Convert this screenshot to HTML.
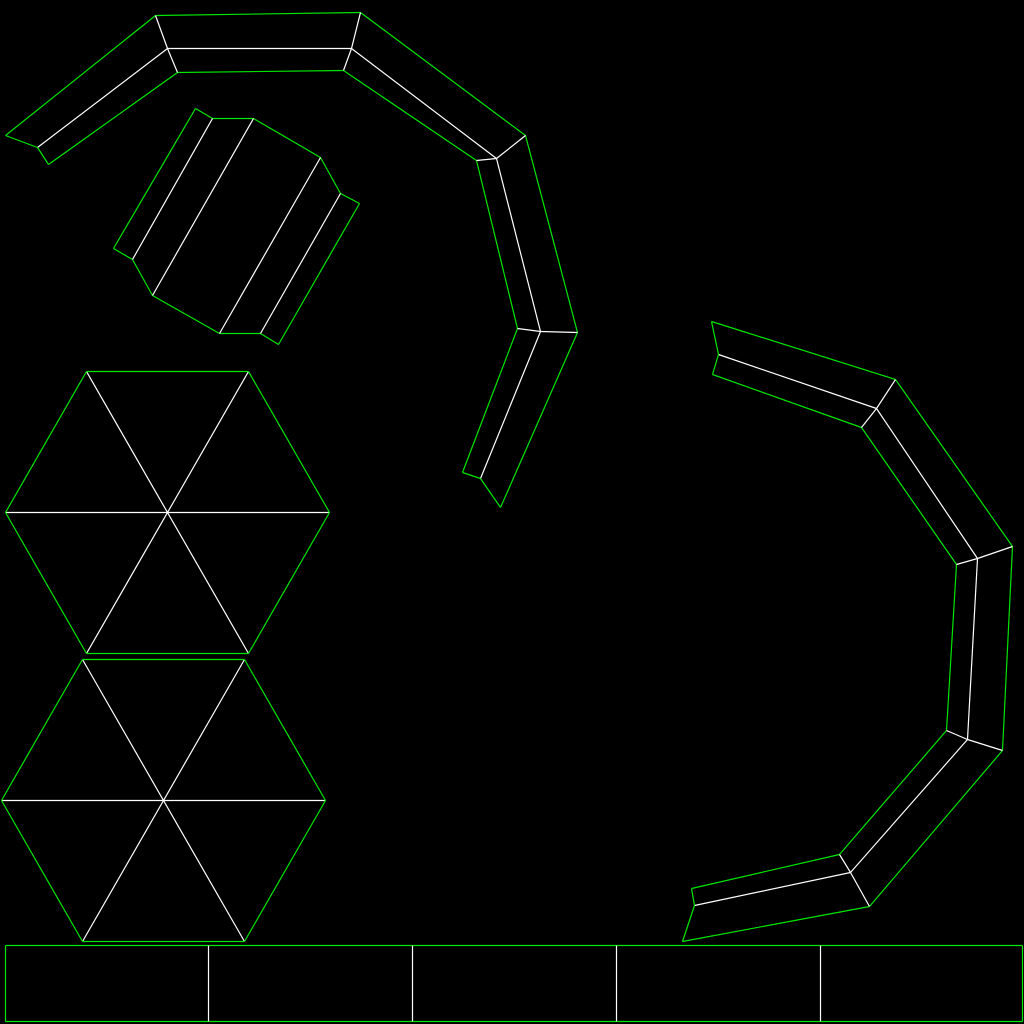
<!DOCTYPE html>
<html><head><meta charset="utf-8"><style>html,body{margin:0;padding:0;background:#000}svg{display:block}</style></head>
<body>
<svg id="c" width="1024" height="1024" viewBox="0 0 1024 1024">
<rect width="1024" height="1024" fill="#000"/>
</svg>
<script>
const G='#00e600', W='#ffffff';
// shapes data (polylines)
const arcOuter=[[5,135],[155,15],[360,12],[525,135],[577,332],[500,507]];
const arcMid=[[37,147],[167,48],[351,48],[496,158],[540,331],[480,478]];
const arcInner=[[48,164],[177,72],[343,70],[476,160],[517,328],[462,472]];
const prismOutline=[[195,108],[212,118],[253,118],[320,157],[340,193],[359,203],[278,344],[260,333],[219,333],[152,295],[132,259],[113,248]];
const prismLines=[[[212,118],[132,259]],[[253,118],[152,295]],[[320,157],[219,333]],[[340,193],[260,333]]];
const rOuter=[[711,321],[895,379],[1012,546],[1002,750],[869,906],[682,941]];
const rMid=[[718,354],[876,408],[977,558],[967,739],[850,872],[694,905]];
const rInner=[[712,374],[861,427],[956,564],[946,730],[839,854],[691,888]];
const hexes=[{cx:167,cy:512,rx:162,h:141},{cx:163,cy:800,rx:162,h:141}];
const dividers=[208,412,616,820];

const svg=document.getElementById('c');
function line(a,b,col,name){
  const l=document.createElementNS('http://www.w3.org/2000/svg','line');
  l.setAttribute('x1',a[0]+.5);l.setAttribute('y1',a[1]+.5);l.setAttribute('x2',b[0]+.5);l.setAttribute('y2',b[1]+.5);
  l.setAttribute('stroke',col);l.setAttribute('stroke-width','1.2');
  
  
  svg.appendChild(l);
}
function poly(pts,col,name,closed){
  for(let i=0;i<pts.length-1;i++) line(pts[i],pts[i+1],col,name);
  if(closed) line(pts[pts.length-1],pts[0],col,name);
}
function band(o,m,inn,prefix){
  poly(o,G,prefix+'-outer-edge');
  poly(inn,G,prefix+'-inner-edge');
  poly(m,W,prefix+'-mid-line');
  line(o[0],m[0],G,prefix+'-end-cap');line(m[0],inn[0],G,prefix+'-end-cap');
  const n=o.length-1;
  line(o[n],m[n],G,prefix+'-end-cap');line(m[n],inn[n],G,prefix+'-end-cap');
  for(let i=1;i<n;i++){line(o[i],m[i],W,prefix+'-joint');line(m[i],inn[i],W,prefix+'-joint');}
}
band(arcOuter,arcMid,arcInner,'top-arc');
band(rOuter,rMid,rInner,'right-arc');
poly(prismOutline,G,'prism-outline',true);
prismLines.forEach(p=>line(p[0],p[1],W,'prism-edge'));
hexes.forEach((h,k)=>{
  const hw=h.rx/2;
  const v=[[h.cx-hw,h.cy-h.h],[h.cx+hw,h.cy-h.h],[h.cx+h.rx,h.cy],[h.cx+hw,h.cy+h.h],[h.cx-hw,h.cy+h.h],[h.cx-h.rx,h.cy]];
  for(let i=0;i<3;i++) line(v[i],v[i+3],W,'hexagon-spoke');
  poly(v,G,'hexagon-outline',true);
});
poly([[5,945],[1022,945],[1022,1021],[5,1021]],G,'bottom-panel-outline',true);
dividers.forEach(x=>line([x,945],[x,1021],W,'bottom-panel-divider'));
</script>
</body></html>
